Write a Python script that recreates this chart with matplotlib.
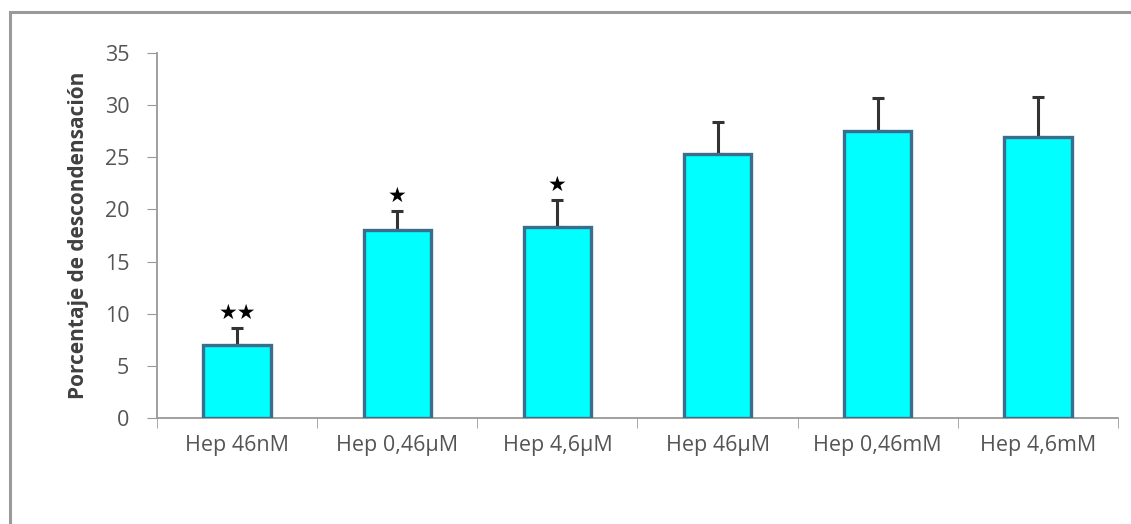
import numpy as np
import matplotlib
matplotlib.use('Agg')
from matplotlib import pyplot as plt
from matplotlib.patches import Rectangle

labels = ['Hep 46nM', 'Hep 0,46\u00b5M', 'Hep 4,6\u00b5M', 'Hep 46\u00b5M', 'Hep 0,46mM', 'Hep 4,6mM']
values = [7.0, 18.0, 18.3, 25.3, 27.5, 26.9]
errors = [1.6, 1.8, 2.6, 3.1, 3.2, 3.9]
marks = ['\u2605\u2605', '\u2605', '\u2605', '', '', '']

plt.rcParams['font.family'] = ['Open Sans', 'DejaVu Sans']

fig = plt.figure(figsize=(11.31, 5.24), dpi=100, facecolor='white')

# grey frame around the whole chart area
fig.patches.append(Rectangle((10 / 1131, -0.1), 1.2, 1 - 12 / 524 + 0.1,
                             transform=fig.transFigure, fill=False,
                             edgecolor='#9a9a9a', linewidth=2.2))

ax = fig.add_axes([0.1388, 0.2023, 0.8497, 0.6966])
x = np.arange(len(labels))

ax.bar(x, values, width=0.42, color='#00ffff', edgecolor='#3b6d8c', linewidth=2.4, zorder=3)
ax.errorbar(x, values, yerr=[np.zeros(len(errors)), errors], fmt='none',
            ecolor='#333333', elinewidth=2.2, capsize=4, capthick=2.2, zorder=2)

for xi, v, e, m in zip(x, values, errors, marks):
    if m:
        ax.annotate(m, (xi, v + e), xytext=(0, 4), textcoords='offset points',
                    ha='center', va='bottom', fontsize=15, family='DejaVu Sans', color='black')

ax.set_xlim(-0.5, len(labels) - 0.5)
ax.set_ylim(0, 35)
ax.set_yticks(range(0, 36, 5))
ax.set_xticks(x)
ax.set_xticklabels(labels)
ax.set_xticks(np.arange(-0.5, len(labels), 1), minor=True)
ax.tick_params(axis='x', which='major', length=0, pad=12, labelsize=15.5, labelcolor='#555555')
ax.tick_params(axis='x', which='minor', length=7, color='#999999')
ax.tick_params(axis='y', length=7, color='#999999', labelsize=15.5, labelcolor='#555555', pad=13)

for s in ['top', 'right']:
    ax.spines[s].set_visible(False)
for s in ['left', 'bottom']:
    ax.spines[s].set_color('#999999')
    ax.spines[s].set_linewidth(1.3)

ax.set_ylabel('Porcentaje de descondensación', fontsize=15, fontweight='bold',
              color='#404040', labelpad=11)

fig.savefig('out.png', dpi=100, facecolor='white')
